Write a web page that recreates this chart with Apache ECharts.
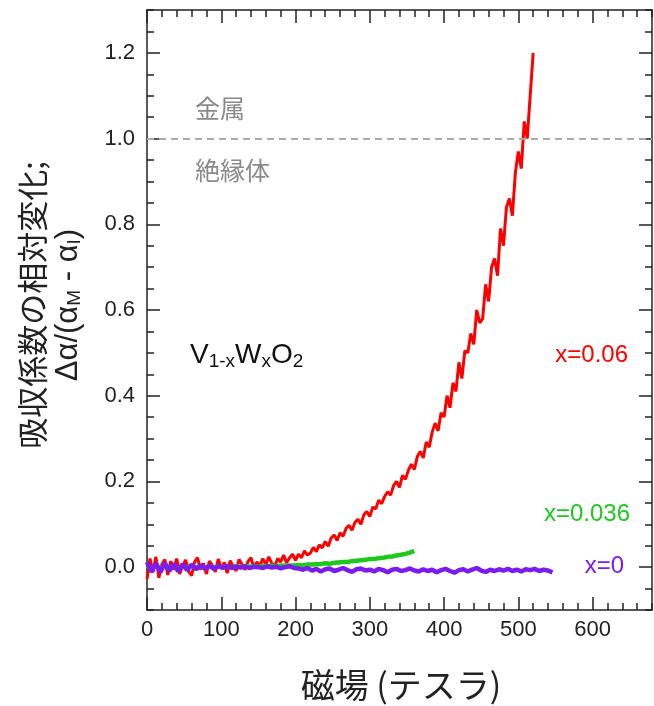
<!DOCTYPE html>
<html>
<head>
<meta charset="utf-8">
<title>V1-xWxO2 吸収係数</title>
<script src="https://cdn.jsdelivr.net/npm/echarts/dist/echarts.min.js"></script>
<style>
  html, body { margin: 0; padding: 0; background: #fff; }
  #main { width: 654px; height: 706px; }
</style>
</head>
<body>
<div id="main"></div>
<script>
// 刻度
const xTicks = [0, 100, 200, 300, 400, 500, 600]
const yTicks = [0, 0.2, 0.4, 0.6, 0.8, 1.0, 1.2]
const boundaryValue = 1.0

// x=0.06 (4 T 间隔)
const redStep = 4
const redValues = [
  -0.028, 0.02, -0.012, 0.024, -0.025, 0.006, 0.018, -0.018, 0.014, -0.006,
  0.02, -0.016, 0.003, 0.017, -0.01, -0.02, 0.012, 0.022, -0.006, 0.009,
  -0.016, 0.014, 0.004, -0.011, 0.019, -0.003, 0.011, -0.014, 0.015, 0.002,
  -0.009, 0.018, 0.006, -0.006, 0.013, 0.022, -0.002, 0.012, 0.003, 0.02,
  0.006, 0.024, 0.009, 0.002, 0.02, 0.012, 0.028, 0.01, 0.022, 0.03,
  0.016, 0.03, 0.022, 0.038, 0.028, 0.033, 0.046, 0.036, 0.052, 0.045,
  0.06, 0.049, 0.068, 0.075, 0.062, 0.08, 0.072, 0.09, 0.098, 0.086,
  0.104, 0.112, 0.1, 0.122, 0.13, 0.118, 0.14, 0.136, 0.156, 0.148,
  0.165, 0.176, 0.168, 0.19, 0.2, 0.186, 0.214, 0.205, 0.226, 0.24,
  0.228, 0.258, 0.27, 0.255, 0.292, 0.28, 0.315, 0.336, 0.318, 0.36,
  0.35, 0.4, 0.372, 0.43, 0.41, 0.478, 0.44, 0.505, 0.5, 0.545,
  0.52, 0.6, 0.57, 0.58, 0.66, 0.62, 0.7, 0.72, 0.68, 0.79,
  0.75, 0.84, 0.86, 0.82, 0.92, 0.97, 0.93, 1.04, 1.0, 1.1,
  1.2
]

// x=0.036 (6 T 间隔)
const greenStep = 6
const greenValues = [
  0.003, -0.004, 0.004, -0.003, 0.003, -0.002, 0.002, -0.003, 0.002, -0.002,
  0.003, -0.001, 0.002, -0.002, 0.002, -0.001, 0.002, 0.0, 0.002, -0.001,
  0.002, 0.0, 0.003, 0.001, 0.002, 0.001, 0.003, 0.002, 0.003, 0.002,
  0.004, 0.003, 0.004, 0.004, 0.005, 0.004, 0.006, 0.006, 0.007, 0.007,
  0.009, 0.008, 0.01, 0.011, 0.012, 0.012, 0.014, 0.015, 0.016, 0.017,
  0.019, 0.019, 0.021, 0.022, 0.024, 0.025, 0.027, 0.029, 0.031, 0.034,
  0.038
]

// x=0 (6 T 间隔)
const purpleStep = 6
const purpleValues = [
  0.012, -0.011, 0.009, -0.012, 0.01, -0.009, 0.008, -0.01, 0.007, -0.007, 0.006,
  -0.005, 0.005, -0.004, 0.004, -0.004, 0.003, -0.002, 0.003, -0.002, 0.001,
  -0.001, 0.002, -0.002, 0.001, 0.0, -0.002, 0.002, -0.001, 0.001, -0.003,
  0.0, 0.002, -0.002,
  -0.003, -0.006, -0.002, -0.008, -0.004, -0.01, -0.005, -0.003, -0.009, -0.006,
  -0.002, -0.007, -0.011, -0.005, -0.003, -0.008, -0.006, -0.01, -0.004, -0.007,
  -0.012, -0.006, -0.004, -0.009, -0.007, -0.003, -0.008, -0.01, -0.005, -0.009,
  -0.006, -0.012, -0.007, -0.004, -0.009, -0.013, -0.007, -0.005, -0.01, -0.006,
  -0.002, -0.008, -0.011, -0.006, -0.009, -0.005, -0.008, -0.004, -0.009, -0.006,
  -0.01, -0.005, -0.007, -0.004, -0.009, -0.006, -0.008, -0.012
]

const fontEn = '"Liberation Sans", Arial, sans-serif'
const fontJa = '"Noto Sans CJK JP", sans-serif'
const axisColor = '#222'

function toPairs(values, step) {
  return values.map((v, i) => [i * step, v])
}

// 坐标轴：细刻度轴 + 粗刻度轴，上下左右各一套
function xAxisOf(position, major, showLabel) {
  return {
    type: 'value', position: position, min: 0, max: 680,
    interval: 20,
    axisLine: { show: !major, onZero: false, lineStyle: { color: axisColor, width: 1.5 } },
    axisTick: major
      ? { show: true, inside: true, length: 13, customValues: xTicks, lineStyle: { color: axisColor, width: 1.5 } }
      : { show: true, inside: true, length: 7, lineStyle: { color: axisColor, width: 1.5 } },
    axisLabel: {
      show: showLabel, customValues: xTicks, margin: 9,
      fontSize: 22, color: axisColor, fontFamily: fontEn
    },
    splitLine: { show: false }
  }
}

function yAxisOf(position, major, showLabel) {
  return {
    type: 'value', position: position, min: -0.1, max: 1.3,
    interval: 0.05,
    axisLine: { show: !major, onZero: false, lineStyle: { color: axisColor, width: 1.5 } },
    axisTick: major
      ? { show: true, inside: true, length: 13, customValues: yTicks, lineStyle: { color: axisColor, width: 1.5 } }
      : { show: true, inside: true, length: 7, lineStyle: { color: axisColor, width: 1.5 } },
    axisLabel: {
      show: showLabel, customValues: yTicks, margin: 12,
      fontSize: 22, color: axisColor, fontFamily: fontEn,
      formatter: v => v.toFixed(1)
    },
    splitLine: { show: false }
  }
}

function drawChart() {
  const myChart = echarts.init(document.getElementById('main'))
  const option = {
    animation: false,
    grid: { left: 147, right: 2, top: 10, bottom: 96 },
    xAxis: [
      xAxisOf('bottom', false, true),
      xAxisOf('bottom', true, false),
      xAxisOf('top', false, false),
      xAxisOf('top', true, false)
    ],
    yAxis: [
      yAxisOf('left', false, true),
      yAxisOf('left', true, false),
      yAxisOf('right', false, false),
      yAxisOf('right', true, false)
    ],
    series: [
      {
        name: 'x=0.06', type: 'line', showSymbol: false,
        data: toPairs(redValues, redStep),
        lineStyle: { color: '#ff0000', width: 3 },
        markLine: {
          silent: true, symbol: 'none', label: { show: false },
          lineStyle: { color: '#aaaaaa', type: [7, 5], width: 2 },
          data: [{ yAxis: boundaryValue }]
        }
      },
      {
        name: 'x=0.036', type: 'line', showSymbol: false,
        data: toPairs(greenValues, greenStep),
        lineStyle: { color: '#1ec81e', width: 4.5 }
      },
      {
        name: 'x=0', type: 'line', showSymbol: false,
        data: toPairs(purpleValues, purpleStep),
        lineStyle: { color: '#7a1cf0', width: 4.5 }
      }
    ],
    graphic: [
      {
        type: 'text', x: 50, y: 305, rotation: Math.PI / 2,
        style: {
          text: '{a|吸収係数の相対変化;}\n{b|Δα/(α}{s|M}{b| - α}{s|I}{b|)}',
          align: 'center', verticalAlign: 'middle', fill: axisColor,
          rich: {
            a: { fontSize: 31, fontFamily: fontJa, lineHeight: 36 },
            b: { fontSize: 31, fontFamily: fontEn, lineHeight: 36 },
            s: { fontSize: 19, fontFamily: fontEn, lineHeight: 36, padding: [14, 0, 0, 0] }
          }
        }
      },
      {
        type: 'text', x: 401, y: 685,
        style: {
          text: '磁場 (テスラ)', align: 'center', verticalAlign: 'middle',
          fontSize: 34, fontFamily: fontJa, fill: axisColor
        }
      },
      {
        type: 'text', x: 195, y: 108,
        style: { text: '金属', align: 'left', verticalAlign: 'middle', fontSize: 25, fontFamily: fontJa, fill: '#8a8a8a' }
      },
      {
        type: 'text', x: 195, y: 170,
        style: { text: '絶縁体', align: 'left', verticalAlign: 'middle', fontSize: 25, fontFamily: fontJa, fill: '#8a8a8a' }
      },
      {
        type: 'text', x: 190, y: 355,
        style: {
          text: '{m|V}{s|1-x}{m|W}{s|x}{m|O}{s|2}',
          align: 'left', verticalAlign: 'middle', fill: '#111',
          rich: {
            m: { fontSize: 28, fontFamily: fontEn, lineHeight: 34 },
            s: { fontSize: 19, fontFamily: fontEn, lineHeight: 34, padding: [14, 0, 0, 0] }
          }
        }
      },
      {
        type: 'text', x: 628, y: 355,
        style: { text: 'x=0.06', align: 'right', verticalAlign: 'middle', fontSize: 24, fontFamily: fontEn, fill: '#ff0000' }
      },
      {
        type: 'text', x: 630, y: 514,
        style: { text: 'x=0.036', align: 'right', verticalAlign: 'middle', fontSize: 24, fontFamily: fontEn, fill: '#1ec81e' }
      },
      {
        type: 'text', x: 624, y: 566,
        style: { text: 'x=0', align: 'right', verticalAlign: 'middle', fontSize: 24, fontFamily: fontEn, fill: '#7a1cf0' }
      }
    ]
  }
  myChart.setOption(option)
}

drawChart()
</script>
</body>
</html>
